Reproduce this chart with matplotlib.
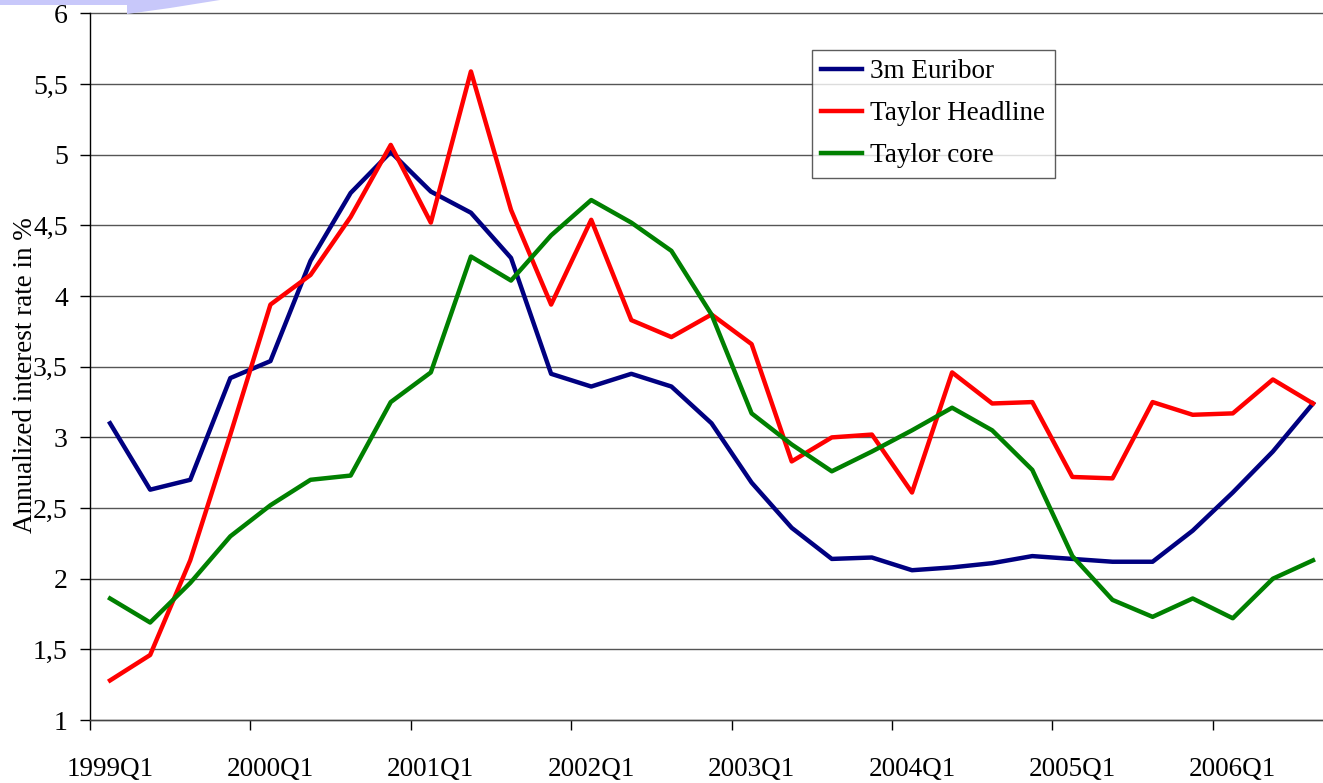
import matplotlib
matplotlib.use("Agg")
import matplotlib.pyplot as plt
from matplotlib.patches import Polygon
from matplotlib.ticker import FuncFormatter
import numpy as np

# Quarterly data, 1999Q1 .. 2006Q3
quarters = [f"{y}Q{q}" for y in range(1999, 2007) for q in range(1, 5)][:31]
euribor = [3.10, 2.63, 2.70, 3.42, 3.54, 4.25, 4.73, 5.02, 4.74, 4.59, 4.27,
           3.45, 3.36, 3.45, 3.36, 3.10, 2.68, 2.36, 2.14, 2.15, 2.06, 2.08,
           2.11, 2.16, 2.14, 2.12, 2.12, 2.34, 2.61, 2.90, 3.24]
taylor_headline = [1.28, 1.46, 2.13, 3.02, 3.94, 4.15, 4.56, 5.07, 4.52, 5.59, 4.61,
                   3.94, 4.54, 3.83, 3.71, 3.87, 3.66, 2.83, 3.00, 3.02, 2.61, 3.46,
                   3.24, 3.25, 2.72, 2.71, 3.25, 3.16, 3.17, 3.41, 3.24]
taylor_core = [1.86, 1.69, 1.97, 2.30, 2.52, 2.70, 2.73, 3.25, 3.46, 4.28, 4.11,
               4.43, 4.68, 4.52, 4.32, 3.87, 3.17, 2.95, 2.76, 2.90, 3.05, 3.21,
               3.05, 2.77, 2.16, 1.85, 1.73, 1.86, 1.72, 2.00, 2.13]
series = [("3m Euribor", euribor, "#000080"),
          ("Taylor Headline", taylor_headline, "#FF0000"),
          ("Taylor core", taylor_core, "#008000")]

plt.rcParams["font.family"] = ["Liberation Serif", "DejaVu Serif"]

W, H = 1323, 783
fig = plt.figure(figsize=(W / 100, H / 100), dpi=100)
ax = fig.add_axes([90 / W, 1 - 720 / H, (W - 90) / W, (720 - 13.5) / H])

# slide decoration in the top left corner
pts = [(0, 0), (0, 5), (127, 5), (127, 14), (170, 8), (220, 0)]
fig.patches.append(Polygon([(x / W, 1 - y / H) for x, y in pts], closed=True,
                           transform=fig.transFigure, facecolor="#C8C8FA",
                           edgecolor="none", zorder=0))

x = np.arange(len(quarters))
for name, vals, col in series:
    ax.plot(x, vals, color=col, lw=3.2, label=name, zorder=3)

ax.set_ylim(1, 6)
ax.set_xlim(-0.5, 30.25)
ax.set_yticks(np.arange(1, 6.01, 0.5))
ax.yaxis.set_major_formatter(FuncFormatter(lambda v, p: f"{v:g}".replace(".", ",")))
ax.yaxis.grid(True, color="#555555", lw=1)
for gl in ax.get_ygridlines():
    gl.set_clip_on(False)
ax.set_axisbelow(True)

ax.set_xticks(x[::4])
ax.set_xticklabels(quarters[::4])
ax.set_xticks(np.arange(-0.5, 31, 4), minor=True)
ax.tick_params(axis="x", which="major", length=0, pad=27, labelsize=19.5)
ax.tick_params(axis="x", which="minor", length=7, width=1, direction="out")
ax.tick_params(axis="y", length=7, width=1, direction="out", pad=9, labelsize=20)

for s in ["top", "right"]:
    ax.spines[s].set_visible(False)
ax.spines["left"].set_linewidth(1)
ax.spines["bottom"].set_linewidth(1)
ax.spines["bottom"].set_color("#444444")

fig.text(26 / W, 1 - 375 / H, "Annualized interest rate in %", rotation=90,
         ha="center", va="center", fontsize=19.5)

leg = ax.legend(loc="upper left", bbox_to_anchor=((812 - 90) / (W - 90), 1 - (50 - 13.5) / (720 - 13.5)),
                fontsize=19.5, frameon=True, fancybox=False, handlelength=1.5,
                handletextpad=0.3, borderpad=0.35, labelspacing=0.62,
                borderaxespad=0)
leg.get_frame().set_edgecolor("#333333")
leg.get_frame().set_linewidth(1)

fig.savefig("out.png", dpi=100)
